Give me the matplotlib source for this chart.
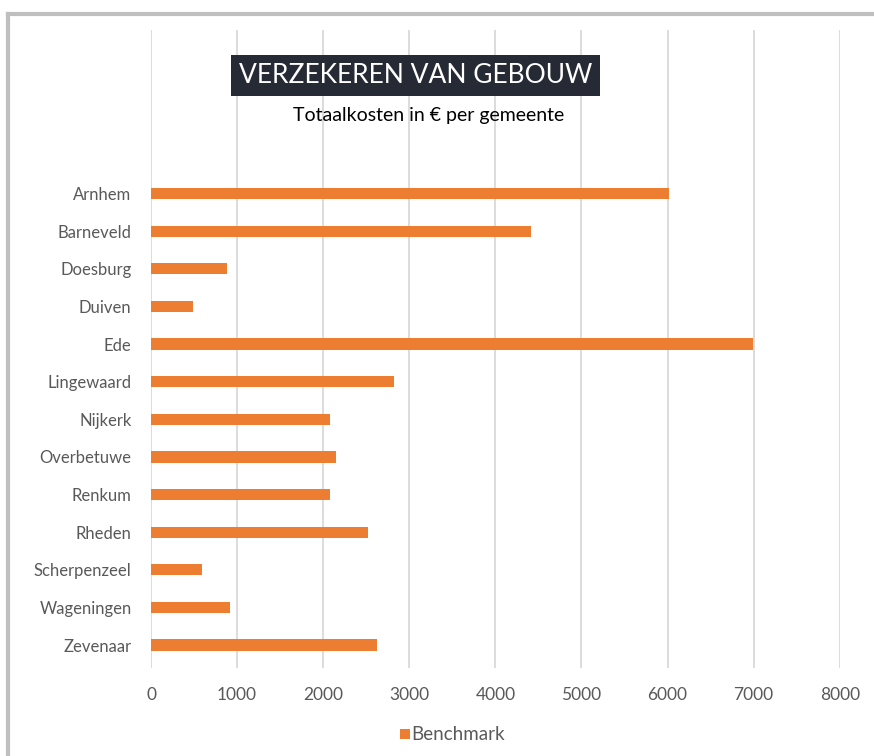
import matplotlib
matplotlib.use("Agg")
import matplotlib.pyplot as plt
from matplotlib.patches import Rectangle
from matplotlib.lines import Line2D

# insurance costs per municipality
gemeenten = ["Arnhem", "Barneveld", "Doesburg", "Duiven", "Ede", "Lingewaard",
             "Nijkerk", "Overbetuwe", "Renkum", "Rheden", "Scherpenzeel",
             "Wageningen", "Zevenaar"]
kosten = [6015, 4415, 880, 490, 6990, 2820, 2075, 2150, 2075, 2525, 595, 920, 2625]
xticks = [0, 1000, 2000, 3000, 4000, 5000, 6000, 7000, 8000]

oranje = "#ED7D31"
grijs = "#595959"
plt.rcParams["font.family"] = ["Lato", "DejaVu Sans"]

fig = plt.figure(figsize=(8.74, 7.56), dpi=100)
ax = fig.add_axes([0.1728, 0.1164, 0.788, 0.844])

posities = list(range(len(gemeenten)))
ax.barh(posities, kosten, height=0.3, color=oranje, label="Benchmark", zorder=3)

ax.set_xlim(0, 8000)
ax.set_ylim(12.61, -4.35)
ax.set_yticks(posities)
ax.set_yticklabels(gemeenten, fontsize=12, color=grijs)
ax.set_xticks(xticks)
ax.set_xticklabels([str(v) for v in xticks], fontsize=12.5, color=grijs)
ax.tick_params(axis="both", length=0)
ax.tick_params(axis="y", pad=14)
ax.tick_params(axis="x", pad=14)
ax.grid(axis="x", color="#d9d9d9", linewidth=1.3, zorder=0)
for s in ax.spines.values():
    s.set_visible(False)

# title block
fig.text(0.475, 0.900, "VERZEKEREN VAN GEBOUW", ha="center", va="center",
         fontsize=19, color="white",
         bbox=dict(boxstyle="square,pad=0.3", facecolor="#252a34", edgecolor="none"))
fig.text(0.490, 0.847, "Totaalkosten in € per gemeente", ha="center", va="center",
         fontsize=14, color="black")

# legend
fig.patches.append(Rectangle((0.4575, 0.022), 0.0115, 0.014, transform=fig.transFigure,
                             facecolor=oranje, edgecolor="none"))
fig.text(0.471, 0.029, "Benchmark", ha="left", va="center", fontsize=13.5, color=grijs)

# chart frame
fig.lines.append(Line2D([0.009, 1.0], [0.982, 0.982], transform=fig.transFigure,
                        color="#bfbfbf", linewidth=3))
fig.lines.append(Line2D([0.009, 0.009], [0.0, 0.982], transform=fig.transFigure,
                        color="#bfbfbf", linewidth=3))

fig.savefig("out.png", dpi=100)
